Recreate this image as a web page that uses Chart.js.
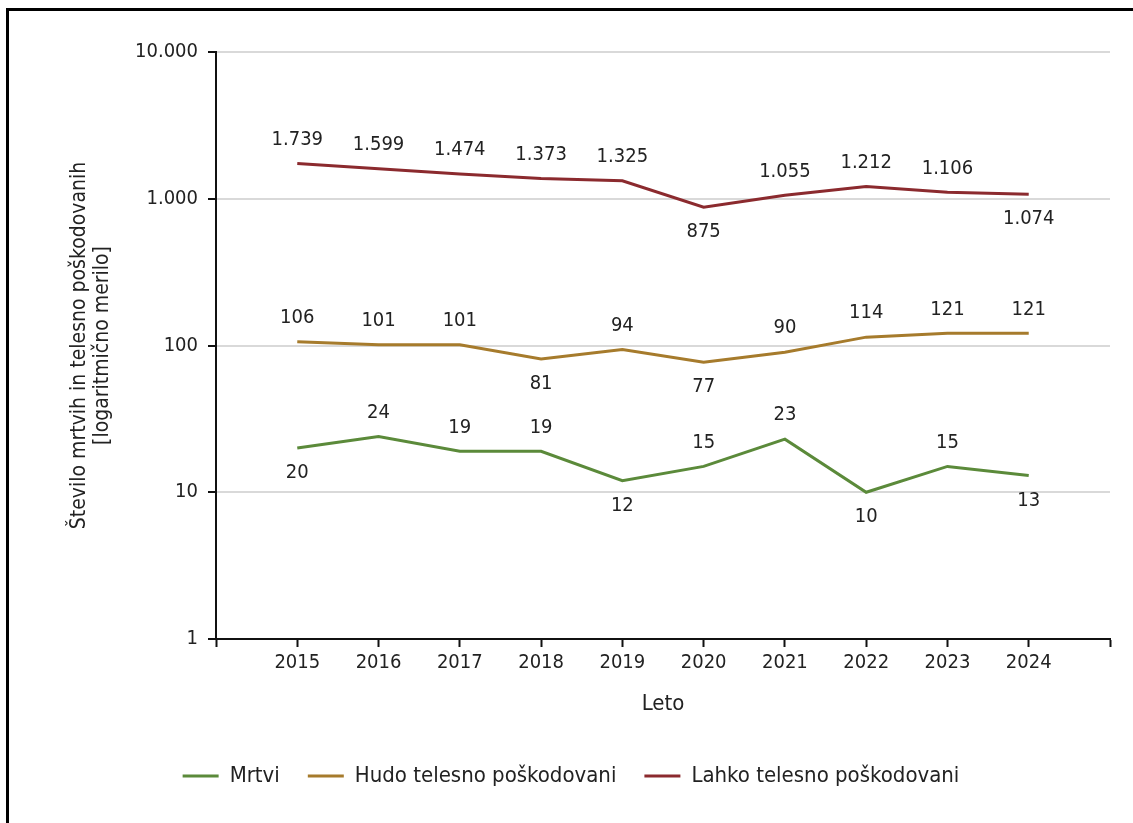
<!DOCTYPE html>
<html>
<head>
<meta charset="utf-8">
<script src="https://cdn.jsdelivr.net/npm/chart.js@4"></script>
<style>
  html, body { margin: 0; padding: 0; background: #fff; overflow: hidden; }
  #wrap { position: relative; width: 1133px; height: 823px; }
  canvas { position: absolute; left: 0; top: 0; }
  #frame { position: absolute; left: 6px; top: 8px; width: 3000px; height: 3000px;
           border-left: 3px solid #000; border-top: 3px solid #000; pointer-events: none; }
</style>
</head>
<body>
<div id="wrap">
  <canvas id="c" width="1133" height="823"></canvas>
  <div id="frame"></div>
</div>
<script>
const years = [2015, 2016, 2017, 2018, 2019, 2020, 2021, 2022, 2023, 2024];
const mrtvi = [20, 24, 19, 19, 12, 15, 23, 10, 15, 13];
const hudo = [106, 101, 101, 81, 94, 77, 90, 114, 121, 121];
const lahko = [1739, 1599, 1474, 1373, 1325, 875, 1055, 1212, 1106, 1074];
const yTicks = [1, 10, 100, 1000, 10000];
const seriesNames = ['Mrtvi', 'Hudo telesno poškodovani', 'Lahko telesno poškodovani'];
// label placement: 'a' above the point, 'b' below
const mrtviPos = ['b','a','a','a','b','a','a','b','a','b'];
const hudoPos  = ['a','a','a','b','a','b','a','a','a','a'];
const lahkoPos = ['a','a','a','a','a','b','a','a','a','b'];

const FONT = '"DejaVu Sans Condensed", "DejaVu Sans", sans-serif';
const TXT = '#222';
const fmt = v => String(v).replace(/\B(?=(\d{3})+(?!\d))/g, '.');

const colors = ['#5b8a3a', '#a67b2c', '#8b2a2e'];
const positions = [mrtviPos, hudoPos, lahkoPos];
const series = [mrtvi, hudo, lahko];

const datasets = series.map((s, i) => ({
  label: seriesNames[i],
  data: years.map((y, j) => ({ x: y, y: s[j] })),
  borderColor: colors[i],
  backgroundColor: colors[i],
  borderWidth: 3,
  pointRadius: 0,
  pointHoverRadius: 0,
  tension: 0,
  fill: false
}));

const labelPlugin = {
  id: 'valueLabels',
  afterLayout(chart) {
    if (chart.legend) { chart.legend.left += 16; chart.legend.right += 16; }
  },
  afterDatasetsDraw(chart) {
    const ctx = chart.ctx;
    ctx.save();
    ctx.font = '20px ' + FONT;
    ctx.fillStyle = TXT;
    ctx.textAlign = 'center';
    ctx.textBaseline = 'middle';
    chart.data.datasets.forEach((ds, i) => {
      const meta = chart.getDatasetMeta(i);
      meta.data.forEach((pt, j) => {
        const off = positions[i][j] === 'a' ? -24 : 25;
        ctx.fillText(fmt(series[i][j]), pt.x, pt.y + off);
      });
    });
    ctx.restore();
  }
};

new Chart(document.getElementById('c'), {
  type: 'line',
  data: { datasets },
  plugins: [labelPlugin],
  options: {
    responsive: false,
    animation: false,
    devicePixelRatio: 1,
    layout: { padding: { left: 0, right: 23, top: 52, bottom: 26 } },
    plugins: {
      tooltip: { enabled: false },
      legend: {
        position: 'bottom',
        labels: {
          font: { family: FONT, size: 22 },
          color: TXT,
          boxWidth: 36,
          boxHeight: 3,
          padding: 28,
          generateLabels(chart) {
            const items = Chart.defaults.plugins.legend.labels.generateLabels(chart);
            items.forEach(it => { it.lineWidth = 0; });
            return items;
          }
        }
      }
    },
    scales: {
      x: {
        type: 'linear',
        min: 2014,
        max: 2025,
        afterFit(scale) { scale.height = 98; },
        ticks: {
          stepSize: 1,
          autoSkip: false,
          maxRotation: 0,
          padding: 4,
          color: TXT,
          font: { family: FONT, size: 20 },
          callback: v => (v === 2014 || v === 2025) ? '' : String(v)
        },
        grid: { display: true, drawOnChartArea: false, drawTicks: true, tickLength: 8, tickColor: '#111', tickWidth: 2 },
        border: { display: true, color: '#111', width: 2 },
        title: { display: true, text: 'Leto', color: TXT, font: { family: FONT, size: 22 }, padding: { top: 0, bottom: 20 } }
      },
      y: {
        type: 'logarithmic',
        min: 1,
        max: 10000,
        afterFit(scale) { scale.width = 216; },
        afterBuildTicks(scale) { scale.ticks = yTicks.map(v => ({ value: v })); },
        ticks: {
          padding: 10,
          color: TXT,
          font: { family: FONT, size: 20 },
          callback: v => fmt(v)
        },
        grid: { color: '#d9d9d9', lineWidth: 2, tickLength: 8, tickColor: '#111', tickWidth: 2 },
        border: { display: true, color: '#111', width: 2 },
        title: {
          display: true,
          text: ['Število mrtvih in telesno poškodovanih', '[logaritmično merilo]'],
          color: TXT,
          font: { family: FONT, size: 21, lineHeight: 1.1 },
          padding: { top: 68, bottom: 0 }
        }
      }
    }
  }
});
</script>
</body>
</html>
